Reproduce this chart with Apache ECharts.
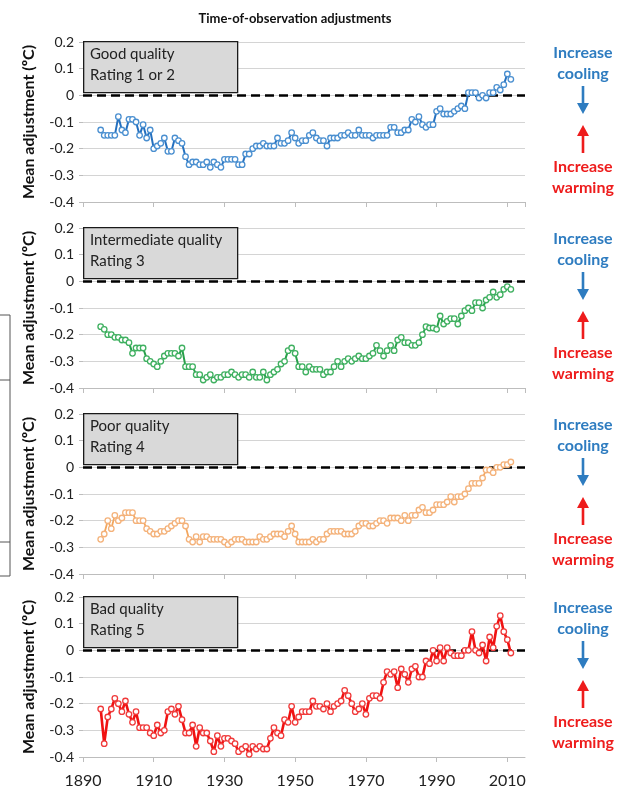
<!DOCTYPE html>
<html>
<head>
<meta charset="utf-8">
<script src="https://cdn.jsdelivr.net/npm/echarts@6/dist/echarts.min.js"></script>
<style>
  html, body { margin: 0; padding: 0; background: #fff; }
  #chart { width: 629px; height: 790px; }
</style>
</head>
<body>
<div id="chart"></div>
<script>
// Station years, 1895 through 2011
const years = Array.from({ length: 117 }, (_, i) => 1895 + i);

// Mean time-of-observation adjustment (°C) per station-quality class
const goodQuality = [
  -0.13, -0.15, -0.15, -0.15, -0.15,
  -0.08, -0.13, -0.14, -0.09, -0.09, -0.10, -0.15, -0.11, -0.16, -0.13,
  -0.20, -0.19, -0.18, -0.16, -0.21, -0.21, -0.16, -0.17, -0.18, -0.23,
  -0.26, -0.25, -0.25, -0.26, -0.26, -0.25, -0.27, -0.25, -0.26, -0.27,
  -0.24, -0.24, -0.24, -0.24, -0.26, -0.26, -0.22, -0.22, -0.20, -0.19,
  -0.19, -0.18, -0.19, -0.19, -0.19, -0.16, -0.18, -0.18, -0.17, -0.14,
  -0.16, -0.18, -0.17, -0.17, -0.15, -0.14, -0.16, -0.17, -0.17, -0.19,
  -0.16, -0.16, -0.16, -0.15, -0.15, -0.14, -0.15, -0.15, -0.13, -0.15,
  -0.15, -0.15, -0.16, -0.15, -0.15, -0.15, -0.15, -0.12, -0.12, -0.14,
  -0.14, -0.13, -0.13, -0.09, -0.10, -0.08, -0.11, -0.12, -0.11, -0.11,
  -0.06, -0.05, -0.07, -0.07, -0.07, -0.06, -0.05, -0.04, -0.05, 0.01,
  0.01, 0.01, -0.01, 0.00, -0.01, 0.01, 0.01, 0.03, 0.02, 0.04,
  0.08, 0.06
];
const intermediateQuality = [
  -0.17, -0.18, -0.20, -0.20, -0.21,
  -0.21, -0.22, -0.22, -0.23, -0.27, -0.25, -0.25, -0.25, -0.29, -0.30,
  -0.31, -0.32, -0.30, -0.28, -0.27, -0.27, -0.27, -0.28, -0.25, -0.32,
  -0.32, -0.32, -0.35, -0.35, -0.37, -0.36, -0.35, -0.37, -0.36, -0.36,
  -0.35, -0.35, -0.34, -0.35, -0.36, -0.35, -0.35, -0.36, -0.34, -0.36,
  -0.36, -0.34, -0.37, -0.35, -0.34, -0.33, -0.31, -0.30, -0.26, -0.25,
  -0.27, -0.32, -0.32, -0.34, -0.32, -0.33, -0.33, -0.33, -0.35, -0.34,
  -0.34, -0.32, -0.30, -0.32, -0.30, -0.29, -0.30, -0.29, -0.28, -0.29,
  -0.29, -0.28, -0.27, -0.24, -0.26, -0.28, -0.26, -0.24, -0.26, -0.22,
  -0.21, -0.23, -0.23, -0.24, -0.24, -0.23, -0.20, -0.17, -0.175, -0.175,
  -0.18, -0.13, -0.16, -0.15, -0.14, -0.14, -0.16, -0.13, -0.11, -0.10,
  -0.11, -0.08, -0.08, -0.10, -0.07, -0.06, -0.04, -0.06, -0.05, -0.03,
  -0.02, -0.03
];
const poorQuality = [
  -0.27, -0.25, -0.20, -0.23, -0.18,
  -0.20, -0.19, -0.17, -0.17, -0.17, -0.20, -0.20, -0.20, -0.23, -0.24,
  -0.25, -0.25, -0.24, -0.24, -0.23, -0.22, -0.21, -0.20, -0.20, -0.22,
  -0.27, -0.28, -0.26, -0.28, -0.26, -0.26, -0.27, -0.27, -0.27, -0.27,
  -0.28, -0.29, -0.28, -0.27, -0.27, -0.27, -0.28, -0.28, -0.28, -0.28,
  -0.26, -0.27, -0.27, -0.26, -0.25, -0.25, -0.25, -0.26, -0.24, -0.22,
  -0.25, -0.28, -0.28, -0.28, -0.28, -0.27, -0.28, -0.27, -0.27, -0.25,
  -0.24, -0.24, -0.24, -0.24, -0.25, -0.25, -0.25, -0.24, -0.22, -0.21,
  -0.21, -0.22, -0.22, -0.21, -0.20, -0.20, -0.21, -0.19, -0.19, -0.19,
  -0.20, -0.18, -0.20, -0.18, -0.18, -0.16, -0.15, -0.17, -0.17, -0.16,
  -0.14, -0.14, -0.14, -0.13, -0.11, -0.13, -0.11, -0.11, -0.10, -0.08,
  -0.06, -0.06, -0.06, -0.04, -0.01, -0.01, -0.02, 0.00, 0.00, 0.01,
  0.01, 0.02
];
const badQuality = [
  -0.22, -0.35, -0.25, -0.22, -0.18,
  -0.20, -0.23, -0.19, -0.24, -0.27, -0.23, -0.29, -0.29, -0.29, -0.31,
  -0.32, -0.28, -0.31, -0.30, -0.23, -0.22, -0.24, -0.21, -0.26, -0.31,
  -0.31, -0.28, -0.36, -0.29, -0.31, -0.31, -0.34, -0.38, -0.32, -0.36,
  -0.33, -0.33, -0.34, -0.35, -0.38, -0.37, -0.36, -0.39, -0.36, -0.37,
  -0.36, -0.37, -0.37, -0.33, -0.29, -0.31, -0.32, -0.26, -0.27, -0.21,
  -0.27, -0.25, -0.23, -0.23, -0.23, -0.19, -0.21, -0.21, -0.22, -0.20,
  -0.23, -0.21, -0.20, -0.19, -0.15, -0.17, -0.20, -0.23, -0.22, -0.20,
  -0.24, -0.18, -0.17, -0.17, -0.18, -0.12, -0.08, -0.09, -0.08, -0.14,
  -0.07, -0.09, -0.12, -0.07, -0.06, -0.10, -0.10, -0.04, -0.05, 0.00,
  -0.04, 0.01, -0.04, 0.01, -0.01, -0.02, -0.02, -0.02, 0.00, 0.00,
  0.07, 0.00, -0.01, 0.02, -0.04, 0.05, 0.01, 0.09, 0.13, 0.07,
  0.04, -0.01
];

const panelTitles = [
  ['Good quality', 'Rating 1 or 2'],
  ['Intermediate quality', 'Rating 3'],
  ['Poor quality', 'Rating 4'],
  ['Bad quality', 'Rating 5']
];
const panelValues = [goodQuality, intermediateQuality, poorQuality, badQuality];
const lineColors = ['#2470bf', '#27a04a', '#f2a65e', '#f01212'];
const markerColors = ['#4a8fd0', '#3fb060', '#f4b27a', '#f03a3a'];
const lineWidths = [2, 2, 1.8, 2.6];

const FONT = 'Lato, "Open Sans", sans-serif';
const panelTops = [42, 228, 414, 597];
const PLOT_LEFT = 83, PLOT_WIDTH = 442, PLOT_HEIGHT = 160;

const grids = [], xAxes = [], yAxes = [], series = [], graphics = [];

panelTops.forEach((top, p) => {
  const last = p === panelTops.length - 1;
  grids.push({ left: PLOT_LEFT, top: top, width: PLOT_WIDTH, height: PLOT_HEIGHT });

  xAxes.push({
    type: 'value', gridIndex: p, min: 1890, max: 2015, interval: 20,
    axisLine: { show: true, onZero: false, lineStyle: { color: '#bdbdbd', width: 1 } },
    axisTick: { show: true, length: 5, lineStyle: { color: '#bdbdbd' } },
    axisLabel: {
      show: last, color: '#222', fontSize: 16, fontFamily: FONT, margin: 16,
      formatter: v => String(v)
    },
    splitLine: { show: false }
  });

  yAxes.push({
    type: 'value', gridIndex: p, min: -0.4, max: 0.2, interval: 0.1,
    name: 'Mean adjustment (ºC)', nameLocation: 'middle', nameGap: 46,
    nameTextStyle: { fontSize: 16, fontWeight: 'bold', color: '#111', fontFamily: FONT },
    axisLine: { show: false },
    axisTick: { show: true, length: 4, lineStyle: { color: '#bdbdbd' } },
    axisLabel: {
      color: '#222', fontSize: 14, fontFamily: FONT, margin: 9,
      formatter: v => (Math.abs(v) < 1e-9 ? '0' : v.toFixed(1))
    },
    splitLine: { show: true, lineStyle: { color: '#d4d4d4', width: 1.2 } }
  });

  series.push({
    type: 'line', xAxisIndex: p, yAxisIndex: p,
    data: years.map((yr, i) => [yr, panelValues[p][i]]),
    symbol: 'circle', symbolSize: 5.5, showSymbol: true,
    lineStyle: { color: lineColors[p], width: lineWidths[p] },
    itemStyle: { color: '#ffffff', borderColor: markerColors[p], borderWidth: 1.3 },
    z: 3,
    markLine: {
      silent: true, symbol: 'none', label: { show: false },
      lineStyle: { color: '#000', type: [9, 5], width: 2.6 },
      data: [{ yAxis: 0 }],
      z: 2
    }
  });

  // Panel caption box
  graphics.push({
    type: 'rect', left: PLOT_LEFT, top: top - 1, z: 10,
    shape: { width: 154, height: 51 },
    style: { fill: '#d9d9d9', stroke: '#1a1a1a', lineWidth: 1.3 }
  });
  graphics.push({
    type: 'text', left: 90, top: top + 5, z: 11,
    style: { text: panelTitles[p][0], font: '15px ' + FONT, fill: '#222' }
  });
  graphics.push({
    type: 'text', left: 90, top: top + 26, z: 11,
    style: { text: panelTitles[p][1], font: '15px ' + FONT, fill: '#222' }
  });

  // Direction annotations on the right
  const cx = 583, off = top - 42;
  const blue = '#2e7cc0', red = '#ee1c1c';
  const boldFont = 'bold 16px ' + FONT;
  graphics.push({ type: 'text', x: cx, y: off + 53, z: 11,
    style: { text: 'Increase', font: boldFont, fill: blue, align: 'center', verticalAlign: 'middle' } });
  graphics.push({ type: 'text', x: cx, y: off + 74, z: 11,
    style: { text: 'cooling', font: boldFont, fill: blue, align: 'center', verticalAlign: 'middle' } });
  graphics.push({ type: 'line', z: 11,
    shape: { x1: cx, y1: off + 86, x2: cx, y2: off + 106 },
    style: { stroke: blue, lineWidth: 2.6 } });
  graphics.push({ type: 'polygon', z: 11,
    shape: { points: [[cx - 6, off + 103], [cx + 6, off + 103], [cx, off + 114]] },
    style: { fill: blue } });
  graphics.push({ type: 'line', z: 11,
    shape: { x1: cx, y1: off + 153, x2: cx, y2: off + 133 },
    style: { stroke: red, lineWidth: 2.6 } });
  graphics.push({ type: 'polygon', z: 11,
    shape: { points: [[cx - 6, off + 136], [cx + 6, off + 136], [cx, off + 125]] },
    style: { fill: red } });
  graphics.push({ type: 'text', x: cx, y: off + 167, z: 11,
    style: { text: 'Increase', font: boldFont, fill: red, align: 'center', verticalAlign: 'middle' } });
  graphics.push({ type: 'text', x: cx, y: off + 188, z: 11,
    style: { text: 'warming', font: boldFont, fill: red, align: 'center', verticalAlign: 'middle' } });
});

// Thin bracket along the left page edge
const bracket = '#555';
[315, 380, 542, 576].forEach(y => {
  graphics.push({ type: 'line', z: 1, shape: { x1: 0, y1: y, x2: 10, y2: y },
    style: { stroke: bracket, lineWidth: 1 } });
});
graphics.push({ type: 'line', z: 1, shape: { x1: 10, y1: 315, x2: 10, y2: 576 },
  style: { stroke: bracket, lineWidth: 1 } });

const chart = echarts.init(document.getElementById('chart'), null, { renderer: 'canvas' });
chart.setOption({
  animation: false,
  backgroundColor: '#ffffff',
  title: {
    text: 'Time-of-observation adjustments',
    left: 290, top: 7, textAlign: 'center',
    textStyle: { fontSize: 13, fontWeight: 'bold', color: '#111', fontFamily: FONT }
  },
  grid: grids,
  xAxis: xAxes,
  yAxis: yAxes,
  series: series,
  graphic: graphics
});
</script>
</body>
</html>
